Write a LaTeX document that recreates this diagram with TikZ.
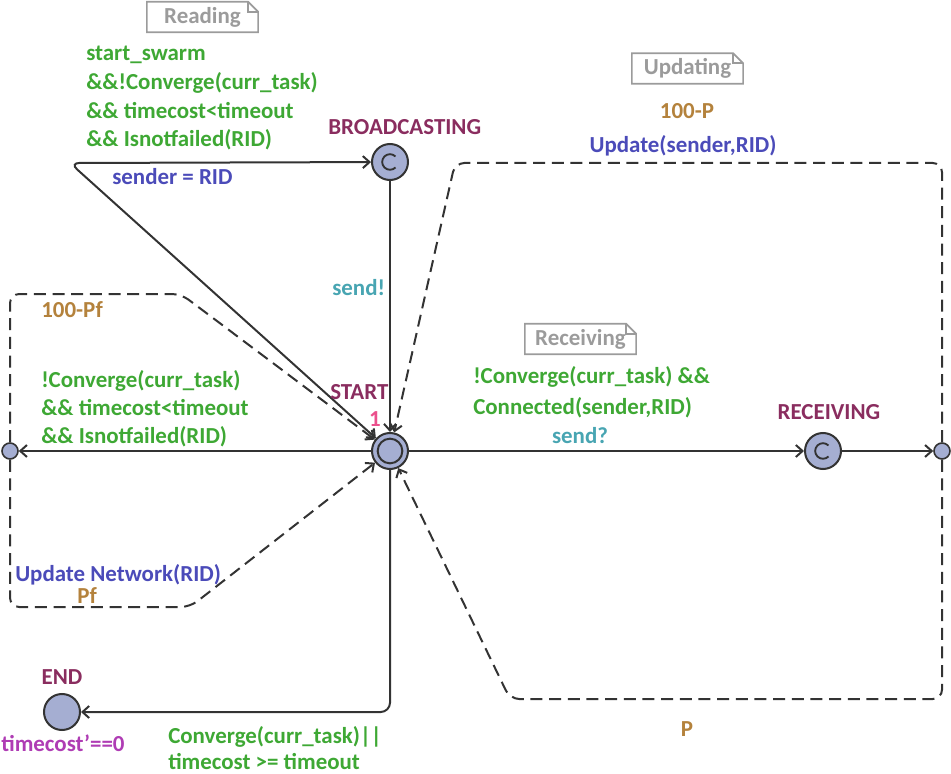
\documentclass[tikz,border=0pt]{standalone}
\usepackage{fontspec}
\setmainfont{Carlito}
\usetikzlibrary{arrows.meta}
\definecolor{linec}{RGB}{51,51,51}
\definecolor{statef}{RGB}{165,174,210}
\definecolor{locname}{RGB}{138,45,95}
\definecolor{guardc}{RGB}{62,168,52}
\definecolor{assignc}{RGB}{75,75,185}
\definecolor{syncc}{RGB}{72,165,178}
\definecolor{probc}{RGB}{180,130,60}
\definecolor{invc}{RGB}{175,60,180}
\definecolor{initc}{RGB}{235,80,140}
\definecolor{notec}{RGB}{155,155,155}
\tikzset{
  loc/.style={circle, draw=linec, fill=statef, line width=1.5pt, minimum size=27pt, inner sep=0pt},
  branchpt/.style={circle, draw=linec, fill=statef, line width=1.2pt, minimum size=12pt, inner sep=0pt},
  tip/.tip={Straight Barb[length=5pt,width=9pt]},
  edge/.style={draw=linec, line width=1.5pt, -tip, rounded corners=7pt},
  pedge/.style={edge, dash pattern=on 9pt off 5pt},
  lbl/.style={inner sep=0pt, anchor=base west},
  lblc/.style={inner sep=0pt, anchor=base},
  lname/.style={text=locname},
  guard/.style={text=guardc},
  assign/.style={text=assignc},
  sync/.style={text=syncc},
  prob/.style={text=probc},
  inv/.style={text=invc},
  notebox/.style={text=notec, inner sep=0pt},
  noteline/.style={draw=notec, line width=1.2pt},
}
\newcommand{\drawnote}[1]{%
  \draw[noteline] (#1.north west) -- ([xshift=-7.5pt]#1.north east) -- ([yshift=-7.5pt]#1.north east) -- (#1.south east) -- (#1.south west) -- cycle;
  \draw[noteline] ([xshift=-7.5pt]#1.north east) -- ([xshift=-7.5pt,yshift=-7.5pt]#1.north east) -- ([yshift=-7.5pt]#1.north east);}
\newcommand{\commitmark}[1]{%
  \draw[linec, line width=1.4pt] ([shift={(5.5,5.5)}]#1.center) arc[start angle=45, end angle=315, radius=7.8];}
\begin{document}
\begin{tikzpicture}[x=0.75pt, y=-0.75pt, font=\fontsize{17.2}{21}\selectfont\bfseries]
\useasboundingbox (0,0) rectangle (951,774);

% locations
\node[loc] (BRO) at (390,162) {};
\node[loc] (START) at (390,451) {};
\node[circle, draw=linec, line width=1.5pt, minimum size=18.5pt, inner sep=0pt] (STARTin) at (START) {};
\node[loc] (REC) at (823,451) {};
\node[loc] (END) at (62,712) {};
\node[branchpt] (BL) at (10,451) {};
\node[branchpt] (BR) at (942,451) {};
\commitmark{BRO}
\commitmark{REC}

% nails
\coordinate (c1) at (70,163);
\coordinate (c2) at (390,712);
\coordinate (ul1) at (10,294);
\coordinate (ul2) at (181,294);
\coordinate (ll1) at (10,607);
\coordinate (ll2) at (190,607);
\coordinate (ur1) at (942,163);
\coordinate (ur2) at (455,163);
\coordinate (lr1) at (942,699);
\coordinate (lr2) at (510,699);

% edges
\draw[edge, tip-tip] (START) -- (c1) -- (BRO);
\draw[edge] (BRO) -- (START);
\draw[edge] (START) -- (BL);
\draw[edge] (START) -- (REC);
\draw[edge] (REC) -- (BR);
\draw[edge] (START) -- (c2) -- (END);
\draw[pedge] (BL) -- (ul1) -- (ul2) -- (START);
\draw[pedge] (BL) -- (ll1) -- (ll2) -- (START);
\draw[pedge] (BR) -- (ur1) -- (ur2) -- (START);
\draw[pedge] (BR) -- (lr1) -- (lr2) -- (START);

% location labels
\node[lbl, lname] (tBRO) at (328,135) {BROADCASTING};
\node[lbl, lname] (tSTART) at (330,399) {START};
\node[lblc, text=initc] (tinit) at (375,426) {1};
\node[lblc, lname] (tREC) at (829,419) {RECEIVING};
\node[lblc, lname] (tEND) at (62,684) {END};
\node[lblc, inv] (tinv) at (63,751) {timecost’==0};

% notes
\node[notebox, minimum width=83pt, minimum height=22.5pt] (nRead) at (202.5,17) {Reading};
\drawnote{nRead}
\node[notebox, minimum width=83pt, minimum height=22.5pt] (nUpd) at (687.5,68.5) {Updating};
\drawnote{nUpd}
\node[notebox, minimum width=83pt, minimum height=22.5pt] (nRec) at (580.5,339) {Receiving};
\drawnote{nRec}

% reading edge labels
\node[lbl, guard] (g1) at (86,61) {start\_swarm};
\node[lbl, guard] (g2) at (86,89.5) {\&\&!Converge(curr\_task)};
\node[lbl, guard] (g3) at (86,118) {\&\& timecost<timeout};
\node[lbl, guard] (g4) at (86,146.5) {\&\& Isnotfailed(RID)};
\node[lbl, assign] (a1) at (112,185) {sender = RID};
\node[lbl, sync] (s1) at (332,295) {send!};

% updating labels
\node[lblc, prob] (p1) at (687,118) {100-P};
\node[lblc, assign] (a2) at (683,152) {Update(sender,RID)};
\node[lblc, prob] (p2) at (687,736) {P};

% left labels
\node[lbl, prob] (p3) at (41,317) {100-Pf};
\node[lbl, guard] (g5) at (41,387) {!Converge(curr\_task)};
\node[lbl, guard] (g6) at (41,415) {\&\& timecost<timeout};
\node[lbl, guard] (g7) at (41,443) {\&\& Isnotfailed(RID)};
\node[lbl, assign] (a3) at (15,581) {Update Network(RID)};
\node[lbl, prob] (p4) at (77,603) {Pf};

% receiving labels
\node[lbl, guard] (g8) at (473,383) {!Converge(curr\_task) \&\&};
\node[lbl, guard] (g9) at (473,414) {Connected(sender,RID)};
\node[lblc, sync] (s2) at (580,443) {send?};

% end labels
\node[lbl, guard] (g10) at (168,743) {Converge(curr\_task)||};
\node[lbl, guard] (g11) at (168,769) {timecost >= timeout};
\end{tikzpicture}
\end{document}
